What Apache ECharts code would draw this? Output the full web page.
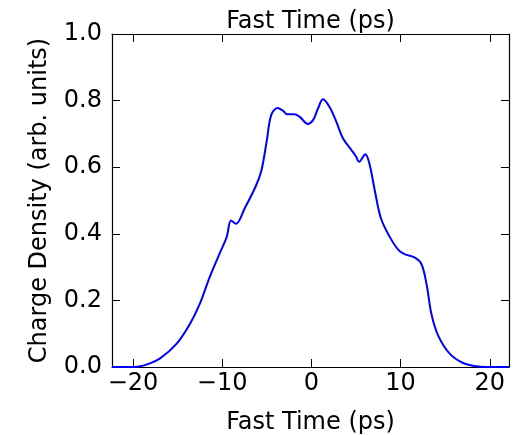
<!DOCTYPE html>
<html>
<head>
<meta charset="utf-8">
<script src="https://cdn.jsdelivr.net/npm/echarts@6/dist/echarts.min.js"></script>
<style>
html,body{margin:0;padding:0;background:#fff;}
#chart{width:515px;height:435px;}
</style>
</head>
<body>
<div id="chart"></div>
<script>
var fastTime = [-22.35, -21, -20, -19.5, -18.5, -17.0, -15.1, -13.6, -12.5, -11.4, -10.3, -9.5, -9.0, -8.45, -7.5, -6.2, -5.6, -5.0, -4.5, -3.8, -3.2, -2.7, -1.9, -1.3, -0.4, 0.2, 0.75, 1.3, 2.05, 2.8, 3.55, 4.5, 5.0, 5.35, 6.05, 6.5, 7.1, 7.8, 8.8, 9.8, 10.5, 11.4, 12.3, 12.9, 13.45, 14.2, 15.5, 17.0, 18.5, 19.5, 20.5, 22.15];
var chargeDensity = [0, 0, 0, 0.001, 0.007, 0.025, 0.07, 0.13, 0.19, 0.27, 0.34, 0.39, 0.44, 0.43, 0.475, 0.545, 0.59, 0.68, 0.757, 0.778, 0.77, 0.759, 0.759, 0.751, 0.73, 0.742, 0.777, 0.804, 0.78, 0.736, 0.686, 0.651, 0.632, 0.616, 0.639, 0.611, 0.531, 0.446, 0.39, 0.35, 0.338, 0.331, 0.311, 0.25, 0.16, 0.095, 0.04, 0.012, 0.002, 0, 0, 0];
var xTicks = [-20, -10, 0, 10, 20];
var yTicks = [0, 0.2, 0.4, 0.6, 0.8, 1.0];
var xTitle = 'Fast Time (ps)';
var yTitle = 'Charge Density (arb. units)';

var FONT = 'DejaVu Sans';
var FS = 24;
var data = fastTime.map(function (x, i) { return [x, chargeDensity[i]]; });
var axisLine = { show: true, onZero: false, lineStyle: { color: '#000', width: 1.2 } };
var tick = { show: true, inside: true, length: 8, lineStyle: { color: '#000', width: 1 } };

var chart = echarts.init(document.getElementById('chart'), null, { renderer: 'canvas' });
chart.setOption({
  animation: false,
  backgroundColor: '#fff',
  grid: { left: 112, right: 6, top: 34, bottom: 68, containLabel: false, outerBoundsMode: 'none' },
  xAxis: [
    {
      type: 'value', position: 'bottom', min: -22.35, max: 22.15,
      axisLine: axisLine,
      axisTick: Object.assign({ customValues: xTicks }, tick),
      axisLabel: {
        customValues: xTicks, margin: 5, color: '#000', fontFamily: FONT, fontSize: FS,
        formatter: function (v) { return v < 0 ? '\u2212' + Math.abs(v) : String(v); }
      },
      splitLine: { show: false },
      name: xTitle, nameLocation: 'middle', nameGap: 44,
      nameTextStyle: { color: '#000', fontFamily: FONT, fontSize: FS }
    },
    {
      type: 'value', position: 'top', min: -22.35, max: 22.15,
      axisLine: axisLine,
      axisTick: Object.assign({ customValues: xTicks }, tick),
      axisLabel: { show: false },
      splitLine: { show: false },
      name: xTitle, nameLocation: 'middle', nameGap: 0,
      nameTextStyle: { color: '#000', fontFamily: FONT, fontSize: FS }
    }
  ],
  yAxis: [
    {
      type: 'value', position: 'left', min: 0, max: 1, interval: 0.2,
      axisLine: axisLine,
      axisTick: tick,
      axisLabel: {
        margin: 10, color: '#000', fontFamily: FONT, fontSize: FS,
        formatter: function (v) { return v.toFixed(1); }
      },
      splitLine: { show: false },
      name: yTitle, nameLocation: 'middle', nameGap: 60,
      nameTextStyle: { color: '#000', fontFamily: FONT, fontSize: FS }
    },
    {
      type: 'value', position: 'right', min: 0, max: 1, interval: 0.2,
      axisLine: axisLine,
      axisTick: tick,
      axisLabel: { show: false },
      splitLine: { show: false }
    }
  ],
  series: [{
    type: 'line',
    xAxisIndex: 0, yAxisIndex: 0,
    data: data,
    smooth: 0.35,
    showSymbol: false,
    clip: true,
    lineStyle: { color: '#0000ff', width: 2 }
  }]
});
</script>
</body>
</html>
